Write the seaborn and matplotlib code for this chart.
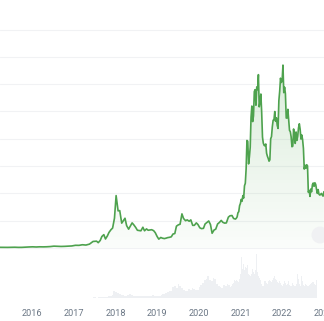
import numpy as np
import pandas as pd
import matplotlib
matplotlib.use("Agg")
import matplotlib.pyplot as plt
import matplotlib.dates as mdates
import seaborn as sns
from matplotlib.colors import LinearSegmentedColormap
from matplotlib.patches import Circle

sns.set_style("white")
plt.rcParams["font.family"] = ["Roboto", "DejaVu Sans"]

# ---------------- data (USD price, volume in billions USD) ----------------
# monthly: 2015-03 .. 2017-06
price_monthly = [260, 245, 235, 225, 260, 280, 230, 238, 320, 380,
                 430, 370, 435, 415, 450, 530, 675, 625, 570, 610, 700, 750,
                 990, 970, 1190, 1080, 1420, 2400]
volume_monthly = [0.03, 0.03, 0.02, 0.02, 0.03, 0.04, 0.03, 0.03, 0.1, 0.06,
                  0.06, 0.05, 0.06, 0.05, 0.07, 0.1, 0.12, 0.08, 0.07, 0.08, 0.1, 0.13,
                  0.15, 0.15, 0.2, 0.25, 0.5, 1.0]
# semi-monthly: 2017-06-15 .. 2020-09-15
price_semimonthly = [2450, 2500, 1950, 2750, 4200, 4900, 3300, 4400, 5700, 6700, 7300, 10900, 19200,
                     13600, 13700, 9100, 10000, 10900, 8200, 6900, 8000, 9200, 8500, 7500, 6500,
                     6400, 6300, 7600, 6300, 7000, 6500, 6600, 6700, 6350, 5600, 4200, 3250,
                     3850, 3600, 3450, 3600, 3800, 3900, 4100, 5100, 5300, 8000, 8500, 8700,
                     12500, 10800, 10000, 10300, 9800, 10300, 8300, 8300, 9200, 8600, 7400, 7100,
                     7200, 8800, 9400, 9900, 8600, 5400, 6600, 6900, 8800, 9300, 10100, 9400,
                     9100, 9200, 11300, 11800, 11900, 10800]
volume_semimonthly = [1.2, 1.1, 0.9, 1.5, 2.5, 2.2, 2.0, 1.8, 2.5, 3.5, 4.0, 7.0, 14.0,
                      12, 10, 8, 6, 7, 5, 5, 6, 8, 6, 5, 4,
                      4, 4, 5, 4, 4, 4, 4, 4, 4, 6, 5, 5,
                      5, 5, 6, 8, 9, 10, 12, 14, 15, 22, 24, 20,
                      30, 25, 20, 16, 15, 15, 18, 16, 20, 18, 17, 16,
                      22, 28, 32, 38, 40, 45, 38, 35, 42, 40, 30, 26,
                      22, 20, 28, 26, 30, 28]
# weekly: 2020-10-01 .. 2022-10-27
price_weekly = [10600, 10900, 11400, 12900, 13300, 15500, 16300, 17800, 17100, 19200,
                18300, 22800, 23700, 29000,
                39400, 39100, 30800, 33400, 36900, 47900, 52000, 46300, 48400, 57300,
                58000, 52300, 59000, 58000, 63500, 51700, 53500, 56400, 49700, 40600,
                38400, 37600, 37400, 38100, 34700, 33600, 32800, 31800, 32300, 40000,
                40800, 44400, 46800, 46900, 50000, 46400, 47700, 44900, 43800, 54000,
                57400, 62200, 60600, 61400, 67000, 56900, 58900, 56500, 47600, 47600,
                50800, 47100,
                43100, 42600, 40700, 37100, 37300, 43600, 40500, 38300, 42500, 39400,
                40900, 44000, 45500, 43500, 39900, 41400, 39700, 36500, 28900, 30300,
                29200, 30500, 30100, 20400, 21100, 18900, 21600, 20600, 23200, 23800,
                22600, 23900, 23300, 21500, 20000, 21400, 19700, 19400, 19600, 20000,
                19400, 19000, 20600]
volume_weekly = [22, 24, 26, 30, 32, 38, 36, 40, 38, 35, 33, 40, 42, 50,
                 85, 60, 70, 55, 58, 65, 62, 68, 55, 50, 48, 45,
                 50, 52, 60, 55, 50, 58, 75, 92, 55, 45, 42, 40, 38,
                 30, 26, 24, 28, 35, 36, 32, 30, 28, 35, 38, 36, 34, 32,
                 38, 42, 45, 40, 36, 38, 34, 32, 35, 42, 32, 28, 25,
                 30, 28, 35, 32, 28, 30, 25, 35, 28, 25, 24, 30, 32,
                 28, 26, 24, 22, 30, 50, 40, 30, 28, 26, 45, 35, 28,
                 25, 26, 30, 28, 24, 26, 25, 28, 30, 32, 35, 33, 34,
                 30, 28, 30, 38]
year_labels = ["2016", "2017", "2018", "2019", "2020", "2021", "2022", "2023"]

dates = (list(pd.date_range("2015-03-01", "2017-06-01", freq="MS"))
         + list(pd.date_range("2017-06-15", "2020-09-15", freq="SMS"))
         + list(pd.date_range("2020-10-01", "2022-10-27", freq="7D")))
df = pd.DataFrame({
    "date": pd.to_datetime(dates),
    "price": price_monthly + price_semimonthly + price_weekly,
    "volume": volume_monthly + volume_semimonthly + volume_weekly,
})

# ---------------- layout ----------------
W, H = 324, 321
fig = plt.figure(figsize=(W / 100, H / 100), dpi=100)
fig.patch.set_facecolor("white")


def rect(x0, y0, x1, y1):
    return [x0 / W, 1 - y1 / H, (x1 - x0) / W, (y1 - y0) / H]


axv = fig.add_axes(rect(0, 250, W, 298))
axp = fig.add_axes(rect(0, 0, W, 252))
for ax in (axv, axp):
    ax.patch.set_alpha(0)
    for s in ax.spines.values():
        s.set_visible(False)

xmin, xmax = pd.Timestamp("2015-03-28"), pd.Timestamp("2022-10-28")

# ---------------- volume ----------------
xnum = mdates.date2num(df["date"])
widths = np.r_[np.diff(xnum), 7] * 1.0
axv.bar(df["date"], df["volume"], width=widths, color="#eef0f3", linewidth=0,
        align="edge")
axv.set_xlim(xmin, xmax)
axv.set_ylim(0, 100)
axv.set_yticks([])
ticks = [pd.Timestamp(f"{y}-01-01") for y in year_labels]
axv.set_xticks(ticks)
axv.set_xticklabels(year_labels)
axv.tick_params(axis="x", length=0, pad=8, labelsize=6.6, labelcolor="#6b7785")
axv.set_xlabel("")

# ---------------- price ----------------
grid_vals = list(range(0, 90000, 10000))
axp.set_yticks(grid_vals)
axp.yaxis.grid(True, color="#f1f2f4", linewidth=0.8)
axp.set_axisbelow(True)
axp.tick_params(axis="both", length=0, labelleft=False, labelbottom=False)

poly = axp.fill_between(df["date"], 0, df["price"], color="none", linewidth=0)
cmap = LinearSegmentedColormap.from_list(
    "g", [(0.45, 0.72, 0.45, 0.03), (0.45, 0.72, 0.45, 0.26)])
grad = np.linspace(0, 1, 256).reshape(-1, 1)
img = axp.imshow(grad, cmap=cmap, origin="lower", aspect="auto",
                 extent=[mdates.date2num(xmin), mdates.date2num(xmax), 0, 68000],
                 zorder=1)
img.set_clip_path(poly.get_paths()[0], transform=axp.transData)

sns.lineplot(data=df, x="date", y="price", ax=axp, color="#4ea24e",
             linewidth=1.2, zorder=3)
axp.set_xlim(xmin, xmax)
axp.set_ylim(-1465, 90840)
axp.set_xlabel("")
axp.set_ylabel("")

# reset-zoom button
fig.patches.append(Circle((320 / W, 1 - 235 / H), 8.5 / W, transform=fig.transFigure,
                          facecolor="#f0f1f3", edgecolor="none", zorder=5))

fig.savefig("out.png", dpi=100, facecolor="white")
